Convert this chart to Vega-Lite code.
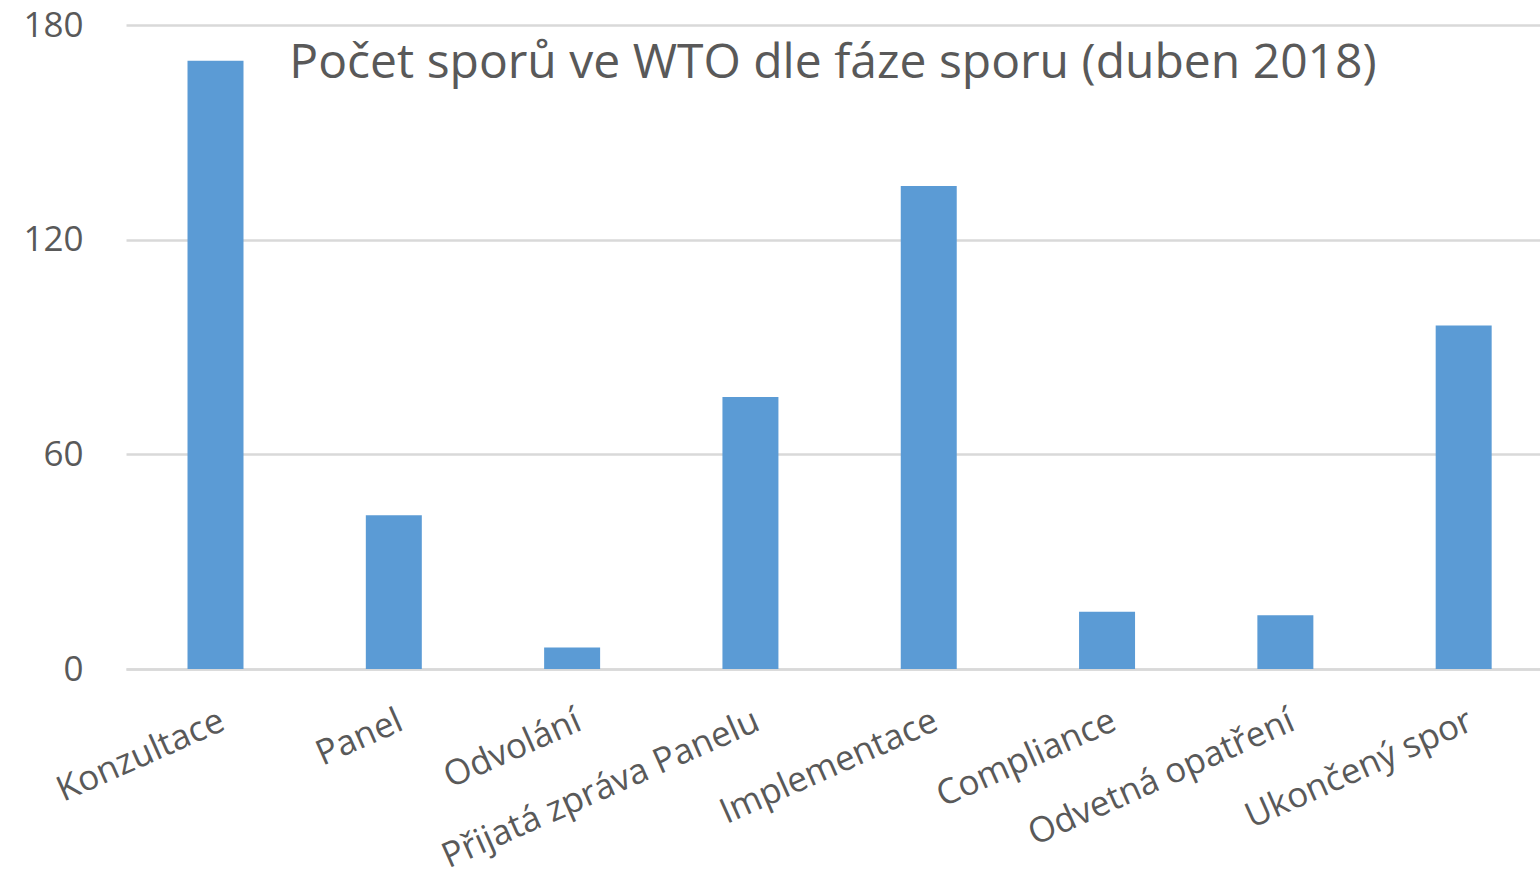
{
  "$schema": "https://vega.github.io/schema/vega-lite/v6.json",
  "autosize": "none",
  "width": 1414,
  "height": 644,
  "padding": {"left": 126, "top": 25, "right": 0, "bottom": 210},
  "background": "white",
  "config": {"view": {"stroke": null}, "font": "Open Sans"},
  "title": {
    "text": "Počet sporů ve WTO dle fáze sporu (duben 2018)",
    "font": "Open Sans",
    "fontSize": 48,
    "fontWeight": "normal",
    "color": "#595959",
    "anchor": "middle",
    "frame": "group",
    "baseline": "alphabetic",
    "offset": 0,
    "dy": 118
  },
  "data": {
    "values": [
      {"faze": "Konzultace", "pocet": 170},
      {"faze": "Panel", "pocet": 43},
      {"faze": "Odvolání", "pocet": 6},
      {"faze": "Přijatá zpráva Panelu", "pocet": 76},
      {"faze": "Implementace", "pocet": 135},
      {"faze": "Compliance", "pocet": 16},
      {"faze": "Odvetná opatření", "pocet": 15},
      {"faze": "Ukončený spor", "pocet": 96}
    ]
  },
  "mark": {"type": "bar", "color": "#5b9bd5"},
  "encoding": {
    "x": {
      "field": "faze",
      "type": "nominal",
      "sort": null,
      "scale": {"paddingInner": 0.686, "paddingOuter": 0.308, "align": 0.56},
      "axis": {
        "title": null,
        "labelAngle": -24,
        "labelAlign": "right",
        "labelBaseline": "top",
        "labelFont": "Open Sans",
        "labelFontSize": 35,
        "labelColor": "#595959",
        "labelPadding": 34,
        "labelLimit": 0,
        "ticks": false,
        "domain": true,
        "domainColor": "#d9d9d9",
        "domainWidth": 2.5,
        "grid": false
      }
    },
    "y": {
      "field": "pocet",
      "type": "quantitative",
      "scale": {"domain": [0, 180], "nice": false},
      "axis": {
        "title": null,
        "values": [0, 60, 120, 180],
        "labelFont": "Open Sans",
        "labelFontSize": 35,
        "labelColor": "#595959",
        "labelPadding": 43,
        "ticks": false,
        "domain": false,
        "grid": true,
        "gridColor": "#d9d9d9",
        "gridWidth": 2.5
      }
    }
  }
}
